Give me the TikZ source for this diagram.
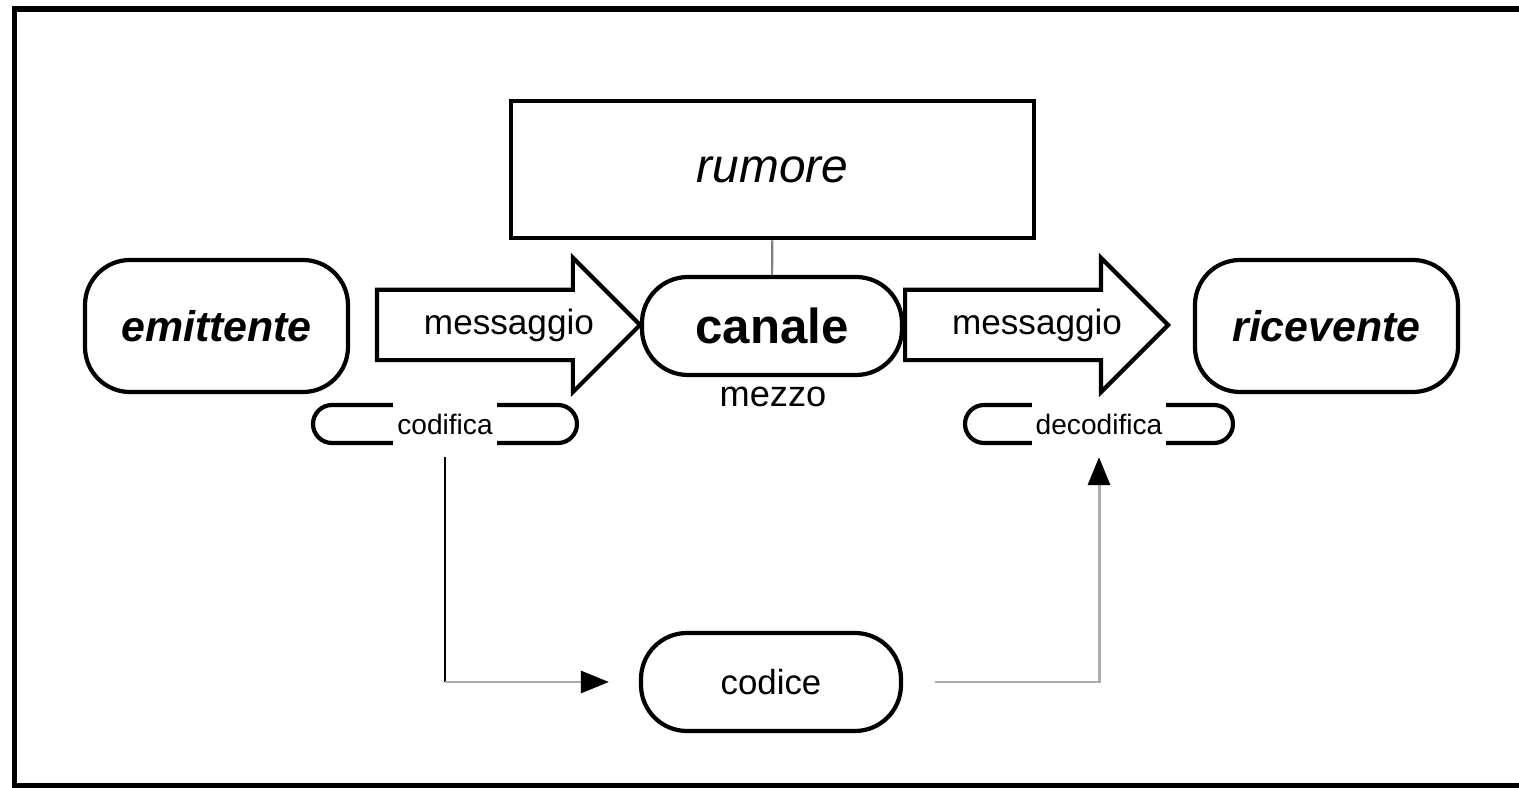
\documentclass[tikz,border=0pt]{standalone}
\usepackage{fontspec}
\setmainfont{Liberation Sans}
\usetikzlibrary{shapes.arrows,arrows.meta,calc}

\tikzstyle{frame} = [draw=black, line width=1.5pt]
\tikzstyle{party} = [rectangle, rounded corners=4.5mm,
minimum width=26.3mm,
minimum height=13.2mm,
text centered,
draw=black, line width=1.2pt,
font=\fontsize{12.2}{14}\selectfont\bfseries\itshape]
\tikzstyle{channel} = [rectangle, rounded corners=4.6mm,
minimum width=26mm,
minimum height=9.8mm,
text centered,
draw=black, line width=1.2pt,
font=\fontsize{14}{16}\selectfont\bfseries]
\tikzstyle{noisebox} = [rectangle,
minimum width=52.3mm,
minimum height=13.7mm,
text centered,
draw=black, line width=1.3pt,
font=\fontsize{13.6}{16}\selectfont\itshape]
\tikzstyle{msg} = [single arrow, 
minimum height=26.3mm,
single arrow head extend=3.2mm,
text height=7pt, text depth=2pt, inner ysep=4.9pt,
draw=black, line width=1.2pt]
\tikzstyle{msgtext} = [font=\fontsize{10}{12}\selectfont]
\tikzstyle{pill} = [rectangle, rounded corners=1.9mm,
minimum height=3.8mm,
draw=black, line width=1.2pt]
\tikzstyle{tag} = [fill=white, inner xsep=0.4mm, minimum height=5mm,
font=\fontsize{8}{9}\selectfont]
\tikzstyle{wire} = [line width=0.85pt]

\begin{document}
\begin{tikzpicture}[x=0.1mm, y=-0.1mm]
\useasboundingbox (0,0) rectangle (1519,788);
\draw [frame] (14.5,9) rectangle (1540,786);

\node (noise) [noisebox] at (772.5,169.5) {rumore};
\node (emit) [party] at (216.5,326) {emittente};
\node (recv) [party] at (1326.5,326) {ricevente};
\node (canale) [channel] at (772,326) {canale};
\node (msgin) [msg, anchor=tip] at (643,325) {};
\node (msgout) [msg, anchor=tail] at (903,325) {};
\node (msgintxt) [msgtext] at ($(msgin.tail)!0.5!(msgin.tip)$) {messaggio};
\node (msgouttxt) [msgtext] at ($(msgout.tail)!0.5!(msgout.tip)$) {messaggio};
\node (mezzo) [font=\fontsize{10.3}{12}\selectfont] at (773,397) {mezzo};
\node (cod) [pill, minimum width=26.4mm] at (445,424) {};
\node (codtxt) [tag] at (cod) {codifica};
\node (dec) [pill, minimum width=26.8mm] at (1099,424) {};
\node (dectxt) [tag] at (dec) {decodifica};
\node (codice) [channel, font=\fontsize{9.9}{12}\selectfont] at (771,682) {codice};

\coordinate (bend) at (cod.south |- codice.west);

\draw [gray, line width=0.6pt] (noise) -- (canale);
\draw [wire, black, shorten <=1.2mm] (cod.south) -- (bend);
\draw [wire, black!33, -{Triangle[length=2.8mm,width=2.2mm,color=black]}, shorten >=3mm] (bend) -- (codice.west);
\draw [wire, black!33, -{Triangle[length=2.8mm,width=2.2mm,color=black]}, shorten <=3.2mm, shorten >=1.2mm] (codice.east) -| (dec.south);
\end{tikzpicture}
\end{document}
